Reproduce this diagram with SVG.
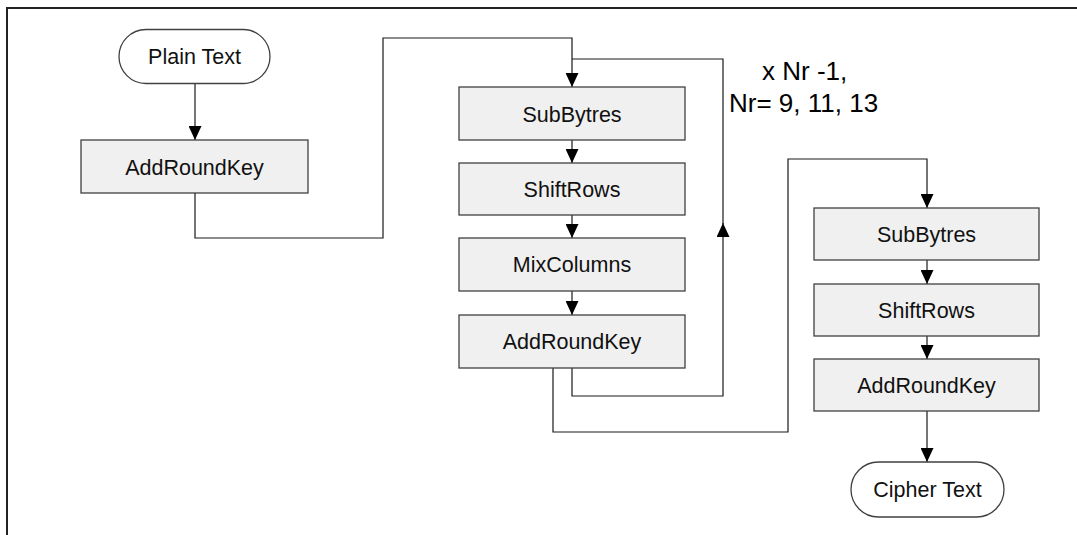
<svg xmlns="http://www.w3.org/2000/svg" width="1077" height="535" viewBox="0 0 1077 535">
<style>
.box{fill:#f0f0f0;stroke:#404040;stroke-width:1.3}
.pill{fill:#ffffff;stroke:#404040;stroke-width:1.3}
.t{font-family:"Liberation Sans",Arial,sans-serif;font-size:21.5px;fill:#111;text-anchor:middle}
.lbl{font-family:"Liberation Sans",Arial,sans-serif;font-size:26px;fill:#000}
.c{fill:none;stroke:#1a1a1a;stroke-width:1.2}
.frame{fill:none;stroke:#222;stroke-width:2}
</style>
<defs>
<marker id="arr" viewBox="0 0 14 13" refX="14" refY="6.5" markerWidth="14" markerHeight="13" markerUnits="userSpaceOnUse" orient="auto">
<path d="M0,0 L14,6.5 L0,13 z" fill="#000"/>
</marker>
</defs>
<rect width="1077" height="535" fill="#fff"/>
<path class="frame" d="M7,535 V8 H1077"/>
<g id="connectors">
<path class="c" d="M195,83 V140" marker-end="url(#arr)"/>
<path class="c" d="M195,193 V238 H383 V38 H572 V87" marker-end="url(#arr)"/>
<path class="c" d="M572,140 V163" marker-end="url(#arr)"/>
<path class="c" d="M572,215 V238" marker-end="url(#arr)"/>
<path class="c" d="M572,291 V315" marker-end="url(#arr)"/>
<path class="c" d="M572,368 V396 H723 V223" marker-end="url(#arr)"/>
<path class="c" d="M723,224 V59 H572"/>
<path class="c" d="M553,368 V432 H788 V159 H927 V208" marker-end="url(#arr)"/>
<path class="c" d="M927,260 V284" marker-end="url(#arr)"/>
<path class="c" d="M927,336 V359" marker-end="url(#arr)"/>
<path class="c" d="M927,411 V462" marker-end="url(#arr)"/>
</g>
<g id="plain-text">
<rect class="pill" x="119" y="29.5" width="151" height="54" rx="27" ry="27"/>
<text class="t" x="194.5" y="64">Plain Text</text>
</g>
<g id="addroundkey-1">
<rect class="box" x="81" y="140" width="227" height="53"/>
<text class="t" x="194.5" y="175">AddRoundKey</text>
</g>
<g id="subbytres-1">
<rect class="box" x="459" y="87" width="226" height="53"/>
<text class="t" x="572" y="122">SubBytres</text>
</g>
<g id="shiftrows-1">
<rect class="box" x="459" y="163" width="226" height="52"/>
<text class="t" x="572" y="197">ShiftRows</text>
</g>
<g id="mixcolumns">
<rect class="box" x="459" y="238" width="226" height="53"/>
<text class="t" x="572" y="272">MixColumns</text>
</g>
<g id="addroundkey-2">
<rect class="box" x="459" y="315" width="226" height="53"/>
<text class="t" x="572" y="349">AddRoundKey</text>
</g>
<g id="loop-label">
<text class="lbl" x="762" y="80">x Nr -1,</text>
<text class="lbl" x="729" y="112">Nr= 9, 11, 13</text>
</g>
<g id="subbytres-2">
<rect class="box" x="814" y="208" width="225" height="52"/>
<text class="t" x="926.5" y="242">SubBytres</text>
</g>
<g id="shiftrows-2">
<rect class="box" x="814" y="284" width="225" height="52"/>
<text class="t" x="926.5" y="318">ShiftRows</text>
</g>
<g id="addroundkey-3">
<rect class="box" x="814" y="359" width="225" height="52"/>
<text class="t" x="926.5" y="393">AddRoundKey</text>
</g>
<g id="cipher-text">
<rect class="pill" x="851" y="462" width="153" height="55" rx="27.5" ry="27.5"/>
<text class="t" x="927.5" y="497">Cipher Text</text>
</g>
</svg>
